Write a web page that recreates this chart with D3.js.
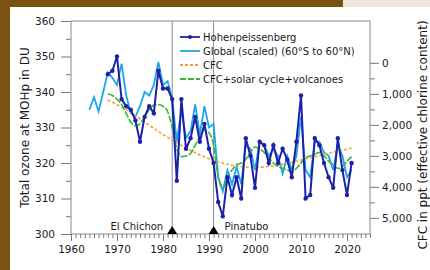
<!DOCTYPE html>
<html>
<head>
<meta charset="utf-8">
<script src="https://cdn.jsdelivr.net/npm/d3@7"></script>
<style>
  body { margin: 0; background: #fff; }
  svg text { font-family: 'DejaVu Sans', sans-serif; fill: #1a1a1a; }
</style>
</head>
<body>
<svg width="430" height="270"></svg>
<script>

// Hohenpeissenberg annual mean total ozone (DU)
let hpYears = d3.range( 1968, 2022 );
let hpValues = [ 345, 346, 350, 338, 336, 335, 332, 326, 333, 336,
                 334, 346, 341, 341, 338, 315, 338, 324, 327, 333,
                 326, 331, 324, 320, 309, 305, 316, 311, 316, 310,
                 327, 322, 313, 326, 325, 320, 325, 320, 324, 321,
                 316, 326, 339, 310, 311, 327, 325, 320, 316, 313,
                 327, 318, 311, 320 ];

// global (60S - 60N), scaled to Hohenpeissenberg
let glYears = d3.range( 1964, 2022 );
let glValues = [ 335, 338.5, 334.5, 340, 345.5, 344, 342, 348, 339, 334,
                 333, 336, 340, 339, 342, 348.5, 342, 343, 338, 326,
                 335, 327, 329, 336.5, 328, 336, 330, 331, 316, 312,
                 318, 314, 319, 314, 325, 324, 318, 326, 325, 322,
                 324, 322, 317, 322, 318, 322, 333, 318, 316, 326,
                 326, 323, 322, 318, 325, 322, 316, 318 ];

// CFC, effective chlorine in ppt (right axis)
let cfcYears = [ 1968, 1972, 1976, 1980, 1984, 1988, 1992, 1996, 2000, 2004, 2008, 2012, 2016, 2021 ];
let cfcValues = [ 1200, 1510, 1910, 2310, 2660, 2970, 3190, 3330, 3370, 3320, 3210, 3060, 2920, 2750 ];

// CFC + solar cycle + volcanoes model (DU)
let fitYears = d3.range( 1968, 2022 );
let fitValues = [ 339.5, 339, 338, 336.5, 334, 331.5, 330.5, 331, 333, 335,
                  336.3, 336.5, 336, 334.5, 330, 324, 321.8, 322, 322.7, 325,
                  327.4, 329.3, 328.5, 325, 316, 313, 316, 318, 319.5, 320,
                  321, 323, 324.5, 324, 323, 321.5, 320, 319, 318.5, 318,
                  317.5, 318.5, 320, 321.5, 322, 322.5, 323, 322, 320.5, 319.5,
                  318.5, 319, 320.5, 321.8 ];

let eventYears = [ 1982, 1991 ];
let eventNames = [ 'El Chichon', 'Pinatubo' ];

let xTicks = d3.range( 1960, 2021, 10 );
let yTicks = d3.range( 300, 361, 10 );
let rTicks = [ 0, 1000, 2000, 3000, 4000, 5000 ];

let legendNames = [ 'Hohenpeissenberg', 'Global (scaled) (60°S to 60°N)', 'CFC', 'CFC+solar cycle+volcanoes' ];


let svg = d3.select( 'svg' );
let margin = { top: 21, right: 60, bottom: 36, left: 71 };
let width = +svg.attr( 'width' );
let height = +svg.attr( 'height' );

let colors = { hp: '#1c22a8', gl: '#1ea4ea', cfc: '#f0a23a', fit: '#36b83a' };

// brown picture frame
svg.append( 'rect' ).attr( 'x', 0 ).attr( 'y', 0 ).attr( 'width', 10 ).attr( 'height', height ).attr( 'fill', '#7a5312' );
svg.append( 'rect' ).attr( 'x', 0 ).attr( 'y', 0 ).attr( 'width', 343 ).attr( 'height', 7 ).attr( 'fill', '#7a5312' );
svg.append( 'rect' ).attr( 'x', 343 ).attr( 'y', 0 ).attr( 'width', 87 ).attr( 'height', 7 ).attr( 'fill', '#efe9dc' );

let x = d3.scaleLinear()
    .domain( [1960, 2025] )
    .range( [margin.left, width - margin.right] );

let y = d3.scaleLinear()
    .domain( [300, 360] )
    .range( [height - margin.bottom, margin.top] );

let yR = d3.scaleLinear()
    .domain( [-1350, 5520] )
    .range( [margin.top, height - margin.bottom] );


// axes
let xAxis = svg.append( 'g' )
    .attr( 'transform', 'translate(0,' + y(300) + ')' );
xAxis.append( 'g' ).call( d3.axisBottom( x ).tickValues( d3.range( 1960, 2026 ) ).tickSize( 4 ).tickFormat( '' ) );
xAxis.append( 'g' ).call( d3.axisBottom( x ).tickValues( xTicks ).tickSize( 7 ).tickPadding( 5 ).tickFormat( d3.format( 'd' ) ) );

let yAxis = svg.append( 'g' )
    .attr( 'transform', 'translate(' + margin.left + ',0)' );
yAxis.append( 'g' ).call( d3.axisLeft( y ).tickValues( d3.range( 305, 360, 10 ) ).tickSize( 5 ).tickFormat( '' ) );
yAxis.append( 'g' ).call( d3.axisLeft( y ).tickValues( yTicks ).tickSize( 10 ).tickPadding( 6 ) );

let rAxis = svg.append( 'g' )
    .attr( 'transform', 'translate(' + ( width - margin.right ) + ',0)' );
rAxis.append( 'g' ).call( d3.axisRight( yR ).tickValues( d3.range( 500, 5001, 1000 ) ).tickSize( 5 ).tickFormat( '' ) );
rAxis.append( 'g' ).call( d3.axisRight( yR ).tickValues( rTicks ).tickSize( 9 ).tickPadding( 3 ).tickFormat( d3.format( ',' ) ) );

svg.selectAll( '.domain' ).remove();
svg.selectAll( '.tick line' ).attr( 'stroke', '#777' );
svg.selectAll( '.tick text' ).style( 'font-size', '10.5px' ).attr( 'fill', '#1a1a1a' );

svg.append( 'rect' )
    .attr( 'x', x(1960) ).attr( 'y', y(360) )
    .attr( 'width', x(2025) - x(1960) ).attr( 'height', y(300) - y(360) )
    .attr( 'fill', 'none' ).attr( 'stroke', '#8a8a8a' ).attr( 'stroke-width', 1 );

svg.append( 'text' )
    .attr( 'transform', 'translate(25,' + ( margin.top + height - margin.bottom ) / 2 + ') rotate(-90)' )
    .attr( 'text-anchor', 'middle' ).attr( 'dy', '0.35em' )
    .style( 'font-size', '12px' )
    .text( 'Total ozone at MOHp in DU' );

svg.append( 'text' )
    .attr( 'transform', 'translate(423,135) rotate(-90)' )
    .attr( 'text-anchor', 'middle' ).attr( 'dy', '0.35em' )
    .style( 'font-size', '12px' )
    .text( 'CFC in ppt (effective chlorine content)' );


// volcanic eruptions
svg.selectAll( '.event' )
    .data( eventYears )
    .enter().append( 'line' )
    .attr( 'x1', d => x(d) ).attr( 'x2', d => x(d) )
    .attr( 'y1', y(360) ).attr( 'y2', y(300) )
    .attr( 'stroke', '#8a8a8a' ).attr( 'stroke-width', 1 );


// series
let line = d3.line()
    .x( d => x( d[0] ) )
    .y( d => y( d[1] ) );

let hp = hpYears.map( ( d, i ) => [ d, hpValues[i] ] );
let gl = glYears.map( ( d, i ) => [ d, glValues[i] ] );
let fit = fitYears.map( ( d, i ) => [ d, fitValues[i] ] );
let cfc = cfcYears.map( ( d, i ) => [ d, cfcValues[i] ] );

svg.append( 'path' ).datum( gl )
    .attr( 'd', line )
    .attr( 'fill', 'none' ).attr( 'stroke', colors.gl ).attr( 'stroke-width', 1.8 );

svg.append( 'path' ).datum( cfc )
    .attr( 'd', d3.line().curve( d3.curveMonotoneX ).x( d => x( d[0] ) ).y( d => yR( d[1] ) ) )
    .attr( 'fill', 'none' ).attr( 'stroke', colors.cfc ).attr( 'stroke-width', 1.6 )
    .attr( 'stroke-dasharray', '3,2' );

svg.append( 'path' ).datum( fit )
    .attr( 'd', line.curve( d3.curveMonotoneX ) )
    .attr( 'fill', 'none' ).attr( 'stroke', colors.fit ).attr( 'stroke-width', 1.6 )
    .attr( 'stroke-dasharray', '7,1.5' );

line.curve( d3.curveLinear );

svg.append( 'path' ).datum( hp )
    .attr( 'd', line )
    .attr( 'fill', 'none' ).attr( 'stroke', colors.hp ).attr( 'stroke-width', 2 );

svg.selectAll( '.dot' )
    .data( hp )
    .enter().append( 'circle' )
    .attr( 'cx', d => x( d[0] ) )
    .attr( 'cy', d => y( d[1] ) )
    .attr( 'r', 2.2 )
    .attr( 'fill', colors.hp );


// eruption markers and names
svg.selectAll( '.tri' )
    .data( eventYears )
    .enter().append( 'path' )
    .attr( 'd', d => d3.line()( [ [x(d) - 5, y(300)], [x(d) + 5, y(300)], [x(d), y(300) - 8] ] ) + 'Z' )
    .attr( 'fill', '#000' );

svg.selectAll( '.ename' )
    .data( eventYears )
    .enter().append( 'text' )
    .attr( 'x', ( d, i ) => i === 0 ? x(d) - 9 : x(d) + 11 )
    .attr( 'y', y(300) - 4 )
    .attr( 'text-anchor', ( d, i ) => i === 0 ? 'end' : 'start' )
    .style( 'font-size', '10px' )
    .text( ( d, i ) => eventNames[i] );


// legend
let legendColors = [ colors.hp, colors.gl, colors.cfc, colors.fit ];
let legendDash = [ null, null, '3,2', '6,2' ];

let legend = svg.selectAll( '.legend' )
    .data( legendNames )
    .enter().append( 'g' )
    .attr( 'transform', ( d, i ) => 'translate(180,' + ( 37 + i * 14 ) + ')' );

legend.append( 'line' )
    .attr( 'x1', 0 ).attr( 'x2', 20 )
    .attr( 'stroke', ( d, i ) => legendColors[i] )
    .attr( 'stroke-width', 1.8 )
    .attr( 'stroke-dasharray', ( d, i ) => legendDash[i] );

legend.filter( ( d, i ) => i === 0 ).append( 'circle' )
    .attr( 'cx', 10 ).attr( 'r', 2 ).attr( 'fill', colors.hp );

legend.append( 'text' )
    .attr( 'x', 23 ).attr( 'dy', '0.35em' )
    .style( 'font-size', '10px' )
    .text( d => d );

</script>
</body>
</html>
